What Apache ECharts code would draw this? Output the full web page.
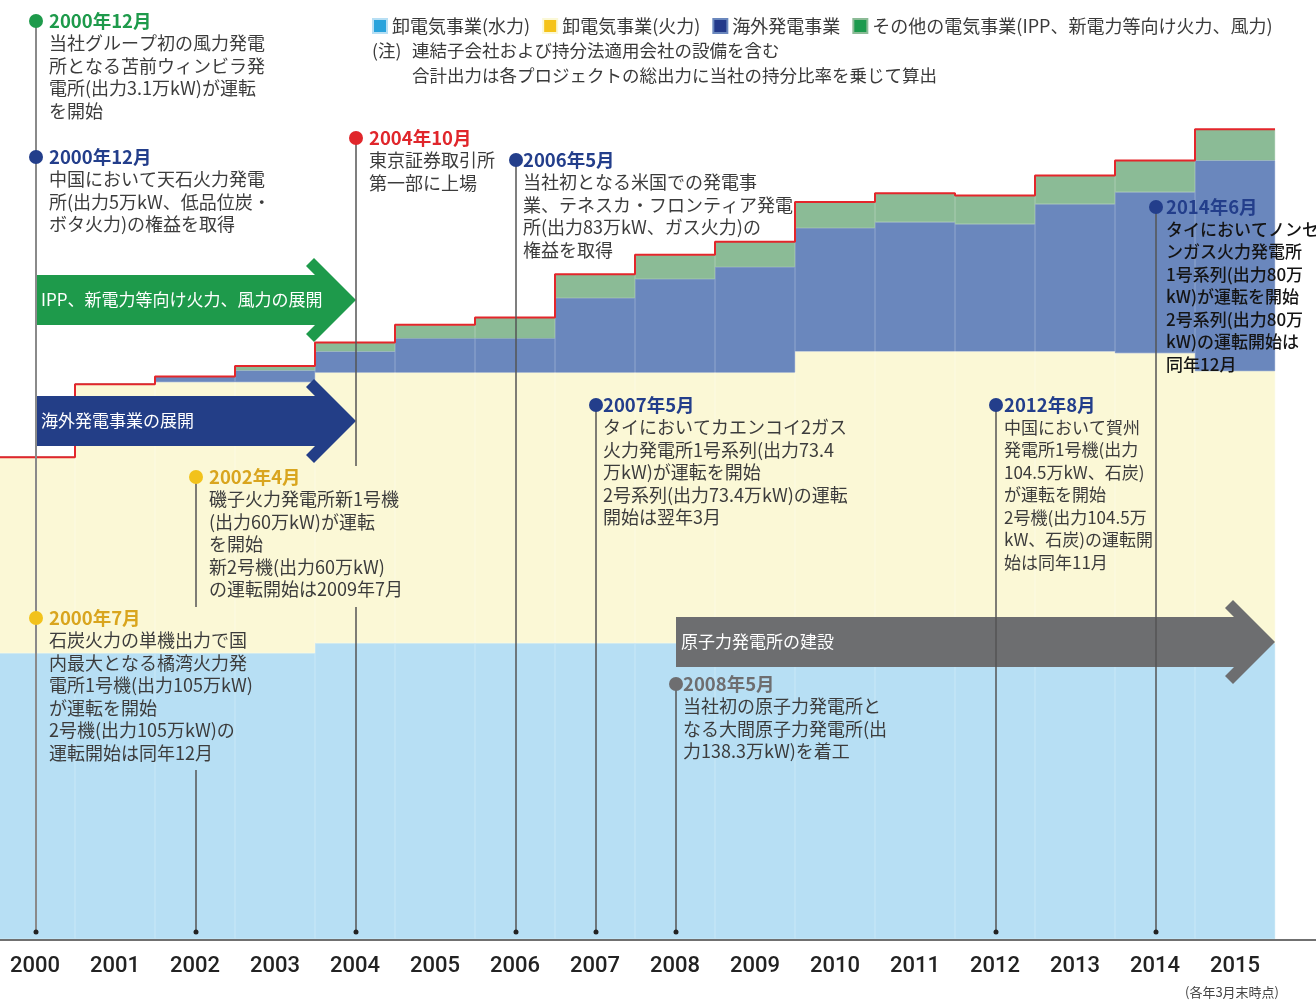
<!DOCTYPE html>
<html>
<head>
<meta charset="utf-8">
<script src="https://cdn.jsdelivr.net/npm/echarts@6/dist/echarts.min.js"></script>
<style>
  html, body { margin: 0; padding: 0; background: #fff; overflow: hidden; }
  #wrap { width: 1316px; height: 1001px; overflow: hidden; }
  /* the first year band is cut off at the left edge, so the canvas starts 5px off-page */
  #chart { width: 1321px; height: 1001px; margin-left: -5px; }
</style>
</head>
<body>
<div id="wrap"><div id="chart"></div></div>
<script>
// capacity by segment, 万kW
const years = ['2000', '2001', '2002', '2003', '2004', '2005', '2006', '2007',
    '2008', '2009', '2010', '2011', '2012', '2013', '2014', '2015'];
const hydro    = [829, 829, 829, 829, 858, 858, 858, 858, 858, 858, 858, 858, 858, 858, 858, 858];
const thermal  = [568, 780, 786, 786, 785, 785, 785, 785, 785, 785, 846, 846, 846, 846, 841, 789];
const overseas = [0, 0, 16, 34, 61, 99, 99, 216, 271, 306, 358, 375, 369, 427, 467, 611];
const other    = [0, 0, 0, 13, 26, 39, 60, 69, 70, 73, 75, 84, 83, 83, 92, 90];

const seriesNames = ['卸電気事業(水力)', '卸電気事業(火力)', '海外発電事業',
    'その他の電気事業(IPP、新電力等向け火力、風力)'];
const notePrefix = '(注)';
const notes = ['連結子会社および持分法適用会社の設備を含む',
    '合計出力は各プロジェクトの総出力に当社の持分比率を乗じて算出'];
const axisNote = '(各年3月末時点)';

const arrowTexts = ['IPP、新電力等向け火力、風力の展開', '海外発電事業の展開', '原子力発電所の建設'];
const arrowFrom = [0, 0, 8];
const arrowTo = [4, 4, 15.5];

const eventYears = ['2000', '2000', '2000', '2002', '2004', '2006', '2007', '2008', '2012', '2014'];
const eventTitles = ['2000年12月', '2000年12月', '2000年7月', '2002年4月', '2004年10月',
    '2006年5月', '2007年5月', '2008年5月', '2012年8月', '2014年6月'];
const eventTexts = [
    ['当社グループ初の風力発電', '所となる苫前ウィンビラ発', '電所(出力3.1万kW)が運転', 'を開始'],
    ['中国において天石火力発電', '所(出力5万kW、低品位炭・', 'ボタ火力)の権益を取得'],
    ['石炭火力の単機出力で国', '内最大となる橘湾火力発', '電所1号機(出力105万kW)', 'が運転を開始',
        '2号機(出力105万kW)の', '運転開始は同年12月'],
    ['磯子火力発電所新1号機', '(出力60万kW)が運転', 'を開始', '新2号機(出力60万kW)', 'の運転開始は2009年7月'],
    ['東京証券取引所', '第一部に上場'],
    ['当社初となる米国での発電事', '業、テネスカ・フロンティア発電', '所(出力83万kW、ガス火力)の', '権益を取得'],
    ['タイにおいてカエンコイ2ガス', '火力発電所1号系列(出力73.4', '万kW)が運転を開始',
        '2号系列(出力73.4万kW)の運転', '開始は翌年3月'],
    ['当社初の原子力発電所と', 'なる大間原子力発電所(出', '力138.3万kW)を着工'],
    ['中国において賀州', '発電所1号機(出力', '104.5万kW、石炭)', 'が運転を開始', '2号機(出力104.5万',
        'kW、石炭)の運転開', '始は同年11月'],
    ['タイにおいてノンセ', 'ンガス火力発電所', '1号系列(出力80万', 'kW)が運転を開始', '2号系列(出力80万',
        'kW)の運転開始は', '同年12月']
];

const FONT = '"Noto Sans CJK JP", "Noto Sans", sans-serif';
const SHIFT = 5;
const fills = ['#b7dff4', '#fbf8d6', '#6a87bd', '#8bbb96'];
const keys = ['#29a3dc', '#f5c31a', '#23398a', '#1c9a4d'];
const stacks = [hydro, thermal, overseas, other];

const total = years.map((_, i) => hydro[i] + thermal[i] + overseas[i] + other[i]);
const stepLine = [];
total.forEach((v, i) => { stepLine.push([i - 0.5, v], [i + 0.5, v]); });

const chart = echarts.init(document.getElementById('chart'));

chart.setOption({
    animation: false,
    backgroundColor: '#fff',
    textStyle: { fontFamily: FONT },
    grid: { left: 0, right: 41, top: 39, bottom: 62 },
    legend: {
        left: 372,
        top: 12,
        icon: 'rect',
        itemWidth: 14,
        itemHeight: 14,
        itemGap: 12,
        selectedMode: false,
        textStyle: { fontSize: 18, color: '#3a3a3a', fontFamily: FONT },
        data: seriesNames.map((n, i) => ({ name: n, itemStyle: { color: keys[i] } })),
    },
    xAxis: [
        {
            type: 'category',
            data: years,
            axisLine: { show: false },
            axisTick: { show: false },
            axisLabel: { color: '#222', fontSize: 22, fontFamily: 'Roboto', fontWeight: 500, margin: 16, interval: 0 },
        },
        { type: 'value', min: -0.5, max: 15.5, show: false },
    ],
    yAxis: { type: 'value', min: 0, max: 2610, show: false },
    series: [
        ...stacks.map((d, i) => ({
            name: seriesNames[i],
            type: 'bar',
            stack: 'total',
            barCategoryGap: '0%',
            silent: true,
            itemStyle: { color: fills[i], borderColor: fills[i], borderWidth: 0.6 },
            data: d,
        })),
        {
            type: 'line',
            xAxisIndex: 1,
            data: stepLine,
            symbol: 'none',
            silent: true,
            z: 5,
            lineStyle: { color: '#e3262b', width: 2 },
        },
    ],
});

// page-space x of a category centre / a position on the hidden value axis
const px = (c) => chart.convertToPixel({ xAxisIndex: 0 }, c) - SHIFT + 1;
const pv = (v) => chart.convertToPixel({ xAxisIndex: 1 }, v) - SHIFT;

const NAVY = '#233e8b';
const evStyle = [
    { y: 21, dx: 13, dot: '#1e9a4b', head: '#1e9a4b', segs: [[21, 932]], line: '#8a8a8a', lw: 2 },
    { y: 157, dx: 13, dot: NAVY, head: NAVY, segs: [] },
    { y: 618, dx: 13, dot: '#f2c21b', head: '#d9a51e', segs: [] },
    { y: 477, dx: 13, dot: '#f2c21b', head: '#d9a51e', segs: [[477, 607], [770, 932]] },
    { y: 138, dx: 13, dot: '#e0262b', head: '#e0262b', segs: [[138, 466], [607, 932]] },
    { y: 160, dx: 7, dot: NAVY, head: NAVY, segs: [[160, 932]] },
    { y: 405, dx: 7, dot: NAVY, head: NAVY, segs: [[405, 932]] },
    { y: 684, dx: 7, dot: '#6e6e70', head: '#6e6e70', segs: [[684, 932]] },
    { y: 405, dx: 8, dot: NAVY, head: NAVY, segs: [[405, 932]], size: 17 },
    { y: 207, dx: 10, dot: NAVY, head: NAVY, segs: [[207, 932]], body: '#141414', weight: 500, size: 17 },
];
const arrowStyle = [
    { cy: 300, fill: '#1e9a4b' },
    { cy: 421, fill: '#233e87' },
    { cy: 642, fill: '#6d6e70' },
];

const g = [];

// arrows
arrowTexts.forEach((t, i) => {
    const x0 = pv(arrowFrom[i]) + 1;
    const tx = pv(arrowTo[i]) + (arrowTo[i] % 1 ? 0 : 1);
    const cy = arrowStyle[i].cy;
    g.push({
        type: 'polygon',
        z: 10,
        shape: {
            points: [
                [x0, cy - 25], [tx - 41, cy - 25], [tx - 50, cy - 34], [tx - 42, cy - 42], [tx, cy],
                [tx - 42, cy + 42], [tx - 50, cy + 34], [tx - 41, cy + 25], [x0, cy + 25],
            ],
        },
        style: { fill: arrowStyle[i].fill },
    });
    g.push({
        type: 'text',
        z: 12,
        style: { text: t, x: x0 + 5, y: cy, fill: '#fff', font: '17px ' + FONT, textVerticalAlign: 'middle', verticalAlign: 'middle' },
    });
});

// event lines, dots, texts
const bottomDots = new Set();
eventYears.forEach((yr, i) => {
    const s = evStyle[i];
    const x = px(yr);
    const size = s.size || 18;
    s.segs.forEach(([a, b]) => {
        g.push({
            type: 'line',
            z: 14,
            shape: { x1: x, y1: a, x2: x, y2: b },
            style: { stroke: s.line || '#555', lineWidth: s.lw || 1.5 },
        });
    });
    bottomDots.add(x);
    g.push({ type: 'circle', z: 15, shape: { cx: x, cy: s.y, r: 7 }, style: { fill: s.dot } });
    g.push({
        type: 'text',
        z: 16,
        style: {
            text: eventTitles[i], x: x + s.dx, y: s.y, fill: s.head,
            font: 'bold 18.5px ' + FONT, textVerticalAlign: 'middle', verticalAlign: 'middle',
        },
    });
    eventTexts[i].forEach((line, k) => {
        g.push({
            type: 'text',
            z: 16,
            style: {
                text: line, x: x + s.dx, y: s.y + 22.5 * (k + 1), fill: s.body || '#3c3c3c',
                font: (s.weight || 'normal') + ' ' + size + 'px ' + FONT,
                textVerticalAlign: 'middle', verticalAlign: 'middle',
            },
        });
    });
});
bottomDots.forEach((x) => {
    g.push({ type: 'circle', z: 15, shape: { cx: x, cy: 932, r: 2.5 }, style: { fill: '#222' } });
});

// axis baseline
g.push({ type: 'line', z: 13, shape: { x1: 0, y1: 940, x2: 1316, y2: 940 }, style: { stroke: '#707070', lineWidth: 2 } });

// notes
const noteFont = '17.5px ' + FONT;
g.push({ type: 'text', style: { text: notePrefix, x: 372, y: 50, fill: '#3a3a3a', font: noteFont, textVerticalAlign: 'middle', verticalAlign: 'middle' } });
notes.forEach((t, k) => {
    g.push({ type: 'text', style: { text: t, x: 412, y: 50 + 25 * k, fill: '#3a3a3a', font: noteFont, textVerticalAlign: 'middle', verticalAlign: 'middle' } });
});
g.push({ type: 'text', style: { text: axisNote, x: 1185, y: 992, fill: '#444', font: '13px ' + FONT, textVerticalAlign: 'middle', verticalAlign: 'middle' } });

chart.setOption({ graphic: [{ type: 'group', x: SHIFT, y: 0, children: g }] });
</script>
</body>
</html>
